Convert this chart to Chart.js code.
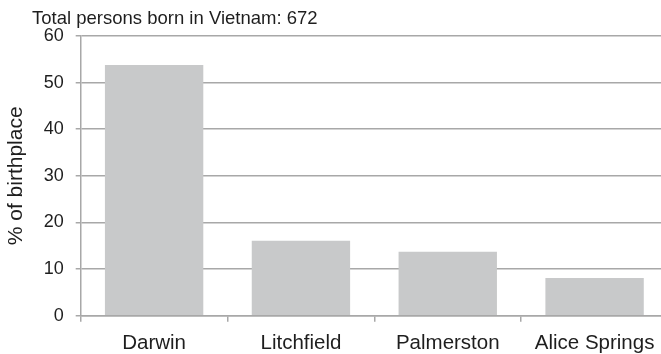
<!DOCTYPE html>
<html>
<head>
<meta charset="utf-8">
<script src="https://cdn.jsdelivr.net/npm/chart.js@4"></script>
<style>
  html, body { margin: 0; padding: 0; background: #fff; overflow: hidden; }
  .wrap { width: 670px; height: 354px; }
</style>
</head>
<body>
<div class="wrap"><canvas id="chart" width="670" height="354"></canvas></div>
<script>
const chartTitle = "Total persons born in Vietnam: 672";
const places = ["Darwin", "Litchfield", "Palmerston", "Alice Springs"];
const shares = [53.8, 16.1, 13.7, 8.1];
const yTicks = [0, 10, 20, 30, 40, 50, 60];

const FONT = "'Liberation Sans', Arial, sans-serif";
const GRID = "#a8a8a8";
const TEXT = "#1e1e1e";

const titlePlugin = {
  id: "cornerTitle",
  afterDraw(chart) {
    const ctx = chart.ctx;
    ctx.save();
    ctx.font = `18.5px ${FONT}`;
    ctx.fillStyle = TEXT;
    ctx.textBaseline = "alphabetic";
    ctx.fillText(chartTitle, 32, 24);
    ctx.restore();
  },
};

new Chart(document.getElementById("chart"), {
  type: "bar",
  data: {
    labels: places,
    datasets: [
      {
        data: shares,
        backgroundColor: "#c8c9ca",
        borderWidth: 0,
        barPercentage: 0.67,
        categoryPercentage: 1,
      },
    ],
  },
  options: {
    responsive: false,
    animation: false,
    layout: { padding: { top: 36, left: 4, right: 2, bottom: 0 } },
    plugins: { legend: { display: false }, tooltip: { enabled: false } },
    scales: {
      y: {
        min: 0,
        max: 60,
        afterBuildTicks: (scale) => {
          scale.ticks = yTicks.map((v) => ({ value: v }));
        },
        afterFit: (scale) => {
          scale.width = 76.7;
        },
        border: { color: GRID, width: 1.5 },
        grid: { color: GRID, lineWidth: 1.5, tickLength: 5 },
        ticks: {
          color: TEXT,
          font: { family: FONT, size: 18 },
          padding: 12,
        },
        title: {
          display: true,
          text: "% of birthplace",
          color: TEXT,
          font: { family: FONT, size: 21 },
          padding: { top: 0, bottom: 0 },
        },
      },
      x: {
        afterFit: (scale) => {
          scale.height = 38.3;
        },
        border: { color: GRID, width: 1.5 },
        grid: {
          color: GRID,
          lineWidth: 1.5,
          drawOnChartArea: false,
          tickLength: 6,
          offset: true,
        },
        ticks: {
          color: TEXT,
          font: { family: FONT, size: 20.5 },
          padding: 9,
          maxRotation: 0,
        },
      },
    },
  },
  plugins: [titlePlugin],
});
</script>
</body>
</html>
